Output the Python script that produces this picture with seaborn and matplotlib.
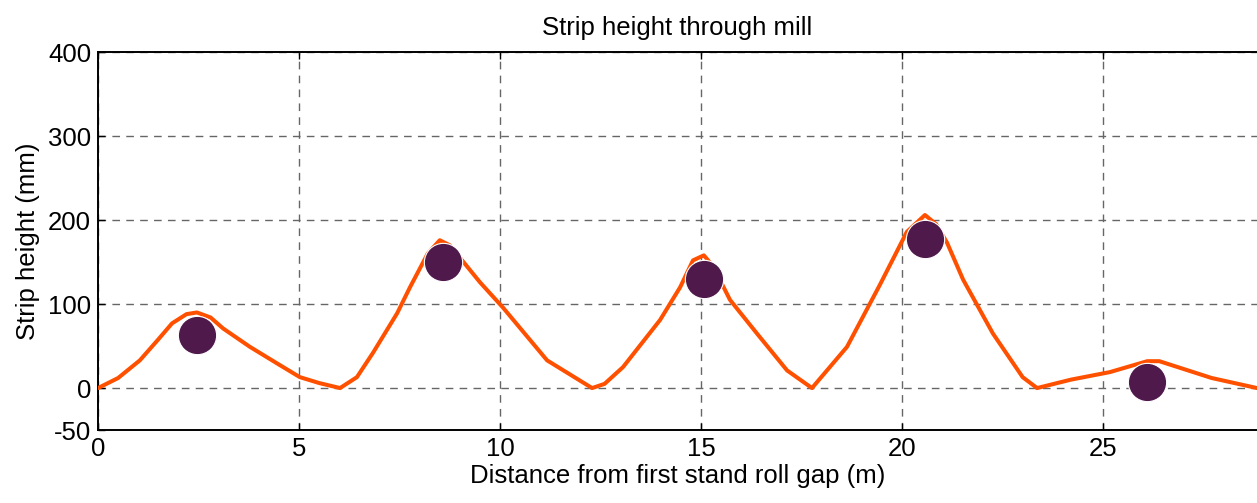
import matplotlib
matplotlib.use("Agg")
import matplotlib.pyplot as plt
import seaborn as sns
import pandas as pd

# Strip profile (distance in m, height in mm)
distance = [0, 0.5, 1.04, 1.5, 1.84, 2.2, 2.46, 2.8, 3.11, 3.78, 4.5, 5.02,
            5.5, 6.02, 6.44, 6.84, 7.44, 7.76, 8.2, 8.5, 8.75, 9.5, 10.07,
            11.17, 12.29, 12.6, 13.06, 13.98, 14.48, 14.8, 15.07, 15.3, 15.72,
            16.39, 17.14, 17.76, 18.63, 19.45, 20.12, 20.57, 20.85, 21.12,
            21.52, 22.26, 23.0, 23.36, 24.2, 25.17, 26.1, 26.4, 27.7, 28.83]
height = [0, 12, 33, 58, 77, 88, 90, 84, 71, 49, 28, 13,
          6, 0, 13, 42, 89, 120, 160, 176, 170, 126, 96,
          33, 0, 5, 25, 81, 120, 152, 158, 145, 105,
          65, 21, 0, 49, 123, 186, 206, 195, 173,
          129, 65, 13, 0, 10, 19, 32, 32, 12, 0]

# Roll stand markers
stand_x = [2.46, 8.58, 15.07, 20.57, 26.1]
stand_y = [63, 150, 130, 178, 7]

x_ticks = [0, 5, 10, 15, 20, 25]
y_ticks = [-50, 0, 100, 200, 300, 400]

sns.set_style("white")
plt.rcParams['font.family'] = ['Liberation Sans', 'DejaVu Sans']
plt.rcParams['axes.unicode_minus'] = False
plt.rcParams['text.color'] = 'black'
plt.rcParams['axes.labelcolor'] = 'black'

fig = plt.figure(figsize=(12.57, 5.03), dpi=100)
ax = fig.add_axes([0.078, 0.145, 0.922, 0.7515])

profile = pd.DataFrame({'x': distance, 'y': height})
stands = pd.DataFrame({'x': stand_x, 'y': stand_y})

sns.lineplot(data=profile, x='x', y='y', ax=ax, color='#FF5000',
             linewidth=2.9, zorder=3)
sns.scatterplot(data=stands, x='x', y='y', ax=ax, color='#4F1A4B',
                s=760, edgecolor='white', linewidth=0.8, zorder=4)

ax.set_xlim(0, 28.83)
ax.set_ylim(-50, 400)
ax.set_xticks(x_ticks)
ax.set_yticks(y_ticks)
ax.grid(True, color='#666666', linestyle=(0, (5.5, 4.5)), linewidth=1.0)
ax.tick_params(direction='in', length=5, width=1, labelsize=18.5,
               colors='black', top=True, bottom=True, left=True, pad=5)

for side in ['left', 'top', 'bottom']:
    ax.spines[side].set_color('black')
    ax.spines[side].set_linewidth(1.4)
ax.spines['right'].set_visible(False)

ax.set_xlabel('Distance from first stand roll gap (m)', fontsize=18.5, labelpad=2)
ax.set_ylabel('Strip height (mm)', fontsize=18.5, labelpad=6)
ax.set_title('Strip height through mill', fontsize=18.5, pad=12)

fig.savefig('out.png', dpi=100)
